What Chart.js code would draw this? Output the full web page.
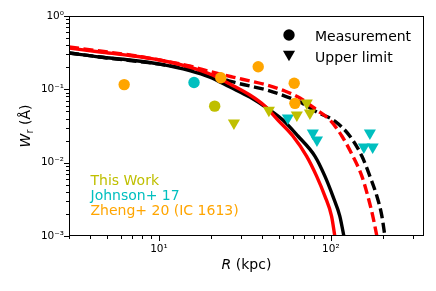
<!DOCTYPE html>
<html>
<head>
<meta charset="utf-8">
<script src="https://cdn.jsdelivr.net/npm/chart.js@4"></script>
<style>
  html, body { margin: 0; padding: 0; background: #fff; }
</style>
</head>
<body>
<canvas id="chart" width="436" height="291"></canvas>
<script>
// axis ticks
var xTicks = [3, 4, 5, 6, 7, 8, 9, 10, 20, 30, 40, 50, 60, 70, 80, 90, 100, 200, 300];
var yTicks = [0.001, 0.002, 0.003, 0.004, 0.005, 0.006, 0.007, 0.008, 0.009,
              0.01, 0.02, 0.03, 0.04, 0.05, 0.06, 0.07, 0.08, 0.09,
              0.1, 0.2, 0.3, 0.4, 0.5, 0.6, 0.7, 0.8, 0.9, 1];

// model curves
var redSolidR = [3, 4.54, 6.78, 10.1, 15.1, 19.8, 25.9, 33.8, 41.3, 49.2, 60.1, 72.2, 82.6, 92.3, 100.9, 105.4];
var redSolidW = [0.366, 0.323, 0.289, 0.251, 0.201, 0.162, 0.118, 0.0836, 0.0592, 0.0381, 0.0231, 0.0123, 0.00656, 0.0035, 0.00187, 0.001];
var blackSolidR = [3, 4.54, 6.78, 10.1, 15.1, 19.8, 25.9, 33.8, 44.2, 52.6, 64.3, 80.7, 92.3, 102.7, 112.7, 119];
var blackSolidW = [0.313, 0.276, 0.251, 0.221, 0.1805, 0.147, 0.1075, 0.0785, 0.0522, 0.0381, 0.0231, 0.0123, 0.00656, 0.0035, 0.00187, 0.001];
var redDashR = [3, 4.54, 6.78, 10.1, 15.1, 19.8, 26.9, 33.8, 42.5, 54.0, 66.1, 82.9, 98.7, 115.8, 134.2, 151.4, 164.0, 175.3, 185.1];
var redDashW = [0.378, 0.333, 0.294, 0.251, 0.208, 0.175, 0.147, 0.130, 0.1145, 0.0948, 0.0761, 0.0522, 0.0381, 0.0231, 0.0123, 0.00656, 0.0035, 0.00187, 0.001];
var blackDashR = [3, 4.54, 6.78, 10.1, 15.1, 19.8, 26.9, 33.8, 42.5, 54.0, 66.1, 82.9, 105.4, 128.8, 151.4, 168.5, 185.1, 198.0, 206.1];
var blackDashW = [0.313, 0.276, 0.247, 0.221, 0.186, 0.159, 0.126, 0.111, 0.0978, 0.081, 0.0671, 0.049, 0.0369, 0.0231, 0.0123, 0.00656, 0.0035, 0.00187, 0.001];

// observations
var thisWorkMeasR = [21.1];
var thisWorkMeasW = [0.059];
var thisWorkLimR = [27.3, 43.6, 63.4, 72.4, 75.5];
var thisWorkLimW = [0.0347, 0.052, 0.0446, 0.065, 0.0475];
var johnsonMeasR = [16.0];
var johnsonMeasW = [0.124];
var johnsonLimR = [56.2, 78.5, 83.0, 155.6, 168.6, 175.0];
var johnsonLimW = [0.0406, 0.0254, 0.0203, 0.0163, 0.0254, 0.0163];
var zhengMeasR = [6.28, 22.9, 37.8, 61.2, 61.8];
var zhengMeasW = [0.116, 0.144, 0.203, 0.121, 0.0644];

var OLIVE = '#bfbf00', CYAN = '#00bfbf', ORANGE = '#ffa500';
var FONT = 'DejaVu Sans';

function pts(xs, ys) {
  return xs.map(function (x, i) { return {x: x, y: ys[i]}; });
}

var supChars = {'-': '\u207B', '0': '\u2070', '1': '\u00B9', '2': '\u00B2', '3': '\u00B3'};
function tickLabel(v) {
  var e = Math.round(Math.log10(v));
  if (Math.abs(v - Math.pow(10, e)) > 1e-6 * Math.pow(10, e)) return '';
  return '10' + String(e).split('').map(function (c) { return supChars[c]; }).join('');
}

function circles(xs, ys, color) {
  return {data: pts(xs, ys), backgroundColor: color, borderWidth: 0,
          pointStyle: 'circle', pointRadius: 5.7, pointHoverRadius: 5.7};
}
function limits(xs, ys, color) {
  return {data: pts(xs, ys), backgroundColor: color, borderWidth: 0,
          pointStyle: 'triangle', rotation: 180, pointRadius: 7, pointHoverRadius: 7};
}
function curve(xs, ys, color, dash) {
  return {data: pts(xs, ys), showLine: true, borderColor: color, borderWidth: 3.4,
          borderDash: dash, pointRadius: 0, fill: false, cubicInterpolationMode: 'monotone'};
}

function downTriangle(ctx, cx, cy, r) {
  var s = r * Math.sin(Math.PI / 3);
  ctx.beginPath();
  ctx.moveTo(cx, cy + r);
  ctx.lineTo(cx - s, cy - r / 2);
  ctx.lineTo(cx + s, cy - r / 2);
  ctx.closePath();
  ctx.fill();
}

var deco = {
  id: 'deco',
  afterDraw: function (chart) {
    var ctx = chart.ctx, a = chart.chartArea;
    var sx = chart.scales.x, sy = chart.scales.y;
    ctx.save();

    // ticks and frame
    ctx.strokeStyle = '#000';
    ctx.lineWidth = 1;
    ctx.beginPath();
    sx.ticks.forEach(function (t) {
      var px = Math.round(sx.getPixelForValue(t.value)) + 0.5;
      var len = tickLabel(t.value) ? 5 : 3;
      ctx.moveTo(px, a.bottom); ctx.lineTo(px, a.bottom + len);
    });
    sy.ticks.forEach(function (t) {
      var py = Math.round(sy.getPixelForValue(t.value)) + 0.5;
      var len = tickLabel(t.value) ? 5 : 3;
      ctx.moveTo(a.left, py); ctx.lineTo(a.left - len, py);
    });
    ctx.stroke();
    ctx.strokeRect(Math.round(a.left) + 0.5, Math.round(a.top) + 0.5,
                   Math.round(a.right - a.left) - 1, Math.round(a.bottom - a.top) - 1);

    // axis titles
    ctx.fillStyle = '#000';
    ctx.textBaseline = 'alphabetic';
    ctx.textAlign = 'left';
    var big = '14px "' + FONT + '"', ital = 'italic 14px "' + FONT + '"', small = '10px "' + FONT + '"';

    ctx.font = ital; var wR = ctx.measureText('R').width;
    ctx.font = big; var wK = ctx.measureText(' (kpc)').width;
    var x0 = (a.left + a.right) / 2 - (wR + wK) / 2;
    ctx.font = ital; ctx.fillText('R', x0, 269);
    ctx.font = big; ctx.fillText(' (kpc)', x0 + wR, 269);

    ctx.save();
    ctx.translate(29.5, (a.top + a.bottom) / 2);
    ctx.rotate(-Math.PI / 2);
    ctx.font = ital; var wW = ctx.measureText('W').width;
    ctx.font = small; var wr = ctx.measureText('r').width;
    ctx.font = big; var wA = ctx.measureText(' (\u00C5)').width;
    var s0 = -(wW + wr + wA) / 2;
    ctx.font = ital; ctx.fillText('W', s0, 0);
    ctx.font = small; ctx.fillText('r', s0 + wW, 3);
    ctx.font = big; ctx.fillText(' (\u00C5)', s0 + wW + wr, 0);
    ctx.restore();

    // legend
    ctx.fillStyle = '#000';
    ctx.beginPath();
    ctx.arc(289, 35, 5.7, 0, Math.PI * 2);
    ctx.fill();
    downTriangle(ctx, 289, 56 - 7 / 4, 7);
    ctx.font = big;
    ctx.fillText('Measurement', 315, 40.5);
    ctx.fillText('Upper limit', 315, 61.5);

    // source labels
    ctx.fillStyle = OLIVE; ctx.fillText('This Work', 90.5, 184.5);
    ctx.fillStyle = CYAN; ctx.fillText('Johnson+ 17', 90.5, 199.5);
    ctx.fillStyle = ORANGE; ctx.fillText('Zheng+ 20 (IC 1613)', 90.5, 214.5);

    ctx.restore();
  }
};

Chart.defaults.font.family = FONT;
Chart.defaults.color = '#000';

var chart = new Chart(document.getElementById('chart').getContext('2d'), {
  type: 'scatter',
  data: {
    datasets: [
      circles(thisWorkMeasR, thisWorkMeasW, OLIVE),
      limits(thisWorkLimR, thisWorkLimW, OLIVE),
      circles(johnsonMeasR, johnsonMeasW, CYAN),
      limits(johnsonLimR, johnsonLimW, CYAN),
      circles(zhengMeasR, zhengMeasW, ORANGE),
      curve(redSolidR, redSolidW, '#ff0000', []),
      curve(blackSolidR, blackSolidW, '#000000', []),
      curve(redDashR, redDashW, '#ff0000', [10, 4.5]),
      curve(blackDashR, blackDashW, '#000000', [10, 4.5])
    ]
  },
  options: {
    responsive: false,
    animation: false,
    events: [],
    layout: {padding: {left: 0, right: 12, top: 16, bottom: 0}},
    plugins: {
      legend: {display: false},
      tooltip: {enabled: false}
    },
    scales: {
      x: {
        type: 'logarithmic',
        min: 3,
        max: 348,
        afterBuildTicks: function (s) { s.ticks = xTicks.map(function (v) { return {value: v}; }); },
        afterFit: function (s) { s.height = 55; },
        grid: {display: false, drawTicks: false},
        border: {display: false},
        ticks: {
          autoSkip: false, maxRotation: 0, minRotation: 0, padding: 7,
          font: {size: 10.5},
          callback: function (v) { return tickLabel(v); }
        }
      },
      y: {
        type: 'logarithmic',
        min: 0.001,
        max: 1,
        afterBuildTicks: function (s) { s.ticks = yTicks.map(function (v) { return {value: v}; }); },
        afterFit: function (s) { s.width = 69; },
        grid: {display: false, drawTicks: false},
        border: {display: false},
        ticks: {
          autoSkip: false, padding: 5,
          font: {size: 10.5},
          callback: function (v) { return tickLabel(v); }
        }
      }
    }
  },
  plugins: [deco]
});
</script>
</body>
</html>
